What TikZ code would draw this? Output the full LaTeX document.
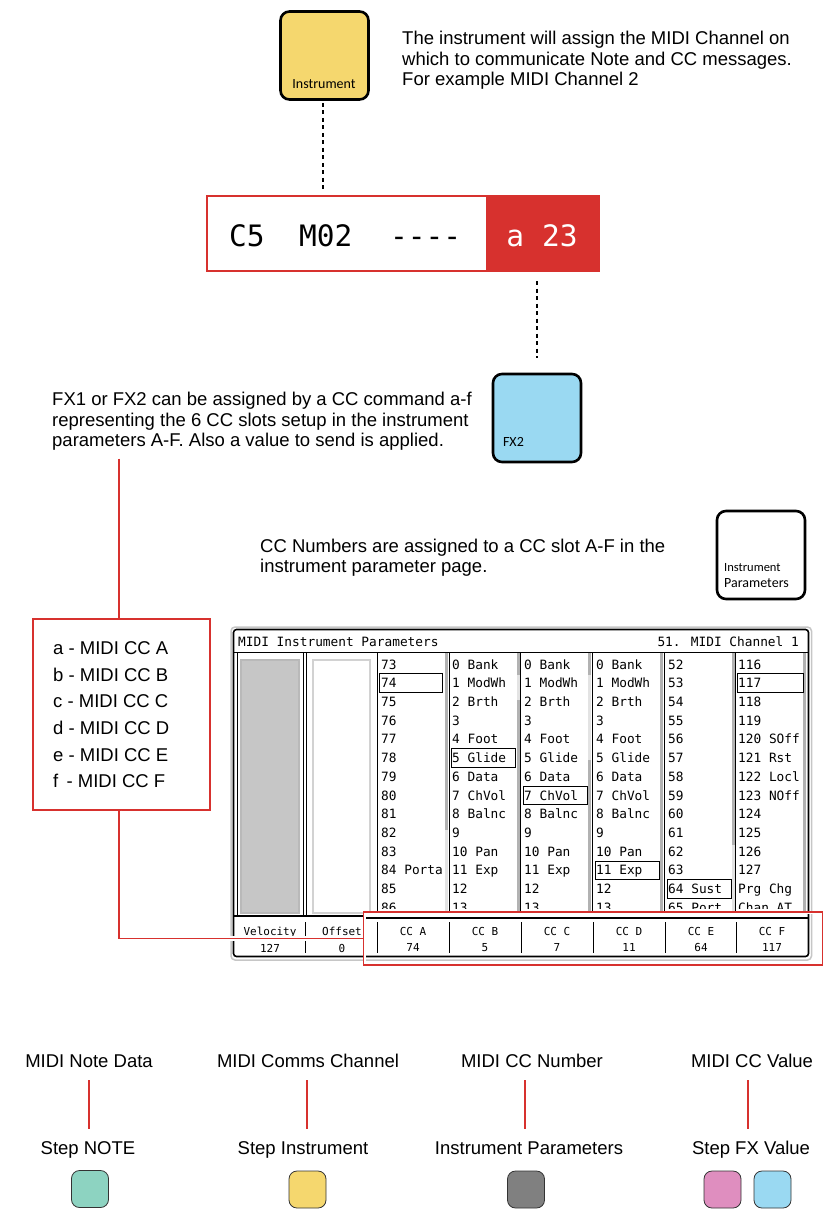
\documentclass[tikz,border=0pt]{standalone}
\usepackage{fontspec}
\setmainfont{Liberation Sans}
\newfontfamily\lcdfont{DejaVu Sans Mono}
\newfontfamily\padfont{Carlito}
\usetikzlibrary{positioning, calc}
\definecolor{mxRed}{HTML}{D7312E}
\definecolor{mxYellow}{HTML}{F5D76E}
\definecolor{mxBlue}{HTML}{9AD9F2}
\definecolor{mxTeal}{HTML}{8DD3C1}
\definecolor{mxPink}{HTML}{DF8EBF}
\definecolor{mxGray}{HTML}{808080}
\tikzset{
  mx/.style={x=1pt, y=-1pt, font=\fontsize{18.5}{20.5}\selectfont},
  pad/.style={draw, line width=2.6pt, rounded corners=9pt, minimum width=88pt, minimum height=88pt, inner sep=0pt},
  padtxt/.style={font=\padfont\fontsize{14}{15}\selectfont, inner sep=0pt, anchor=base west},
  swatch/.style={draw=black!80, line width=0.8pt, rounded corners=8pt, minimum width=37pt, minimum height=37pt, inner sep=0pt},
  note/.style={align=left, inner sep=0pt, anchor=base west},
  lbl/.style={inner sep=0pt, anchor=base},
  link/.style={draw=mxRed, line width=1.4pt},
  tether/.style={dash pattern=on 4pt off 3.5pt, line width=1.4pt},
  lcd/.style={font=\lcdfont\fontsize{29.5}{30}\selectfont, inner sep=0pt, anchor=base west},
  scr/.style={font=\lcdfont\fontsize{12.8}{14}\selectfont, inner sep=0pt, anchor=base west},
  cc/.style={font=\lcdfont\fontsize{11}{12}\selectfont, inner sep=0pt, anchor=base},
  hl/.style={draw, line width=0.9pt},
  track/.style={fill=gray!22},
  thumb/.style={fill=gray!60},
}

\begin{document}
\begin{tikzpicture}[
  mx,
]
\useasboundingbox (0,0) rectangle (831,1210);

% instrument pad and the step display
\node[pad, fill=mxYellow] (inst) at (324.5,55.5) {};
\node[padtxt, anchor=base] (instlbl) at (324,88) {Instrument};
\node[note] (chnote) at (402,85.6) {The instrument will assign the MIDI Channel on\\which to communicate Note and CC messages.\\For example MIDI Channel 2};

\node[draw=mxRed, line width=1.4pt, minimum width=392pt, minimum height=75pt, inner sep=0pt] (disp) at (403,233.5) {};
\node[fill=mxRed, minimum width=113pt, minimum height=75pt, inner sep=0pt] (dval) at (542.5,233.5) {};
\node[lcd] (dnote) at (229,246) {C5};
\node[lcd] (dchan) at (299,246) {M02};
\node[lcd] (dfx) at (390,246) {----};
\node[lcd, anchor=base, text=white] (dcc) at (542,246) {a 23};
\draw[tether, shorten <=2pt, shorten >=6pt] (inst.south -| 323,0) -- (disp.north -| 323,0);

\node[pad, fill=mxBlue] (fx2) at (537,418) {};
\node[padtxt] (fx2lbl) at (503,446) {FX2};
\draw[tether, shorten <=10pt, shorten >=15pt] (dval.south -| fx2.north) -- (fx2.north);

\node[note] (fxnote) at (52,446.6) {FX1 or FX2 can be assigned by a CC command a-f\\representing the 6 CC slots setup in the instrument\\parameters A-F. Also a value to send is applied.};

\node[pad, fill=white] (ipar) at (761,555) {};
\node[padtxt, font=\padfont\fontsize{12.5}{13}\selectfont] (iparlbl) at (724,571) {Instrument};
\node[padtxt] (iparlbl2) at (724,587) {Parameters};
\node[note] (ccnote) at (260,572.6) {CC Numbers are assigned to a CC slot A-F in the\\instrument parameter page.};

% list of cc commands
\node[draw=mxRed, line width=1.4pt, minimum width=177pt, minimum height=191pt] (ccl) at (121.5,714.5) {};
\node[note, font=\fontsize{18.5}{26.6}\selectfont] (ccltxt) at (53,787.6) {a - MIDI CC A\\b - MIDI CC B\\c - MIDI CC C\\d - MIDI CC D\\e - MIDI CC E\\f\, - MIDI CC F};
\draw[link] (fxnote.south -| 119,0) ++(0,8) -- (ccl.north -| 119,0);

% instrument parameter screen
\draw[gray!45, line width=1.5pt, rounded corners=4pt] (231,627) rectangle (811.5,960);
\draw[line width=1.6pt, rounded corners=3pt] (233.5,629.5) rectangle (808.5,956.5);
\node[scr] (ttl) at (238,646) {MIDI Instrument Parameters};
\node[scr, anchor=base east] (chn) at (799,646) {51. MIDI Channel 1};
\draw[line width=1pt] (233.5,652) -- (808.5,652);
\draw[line width=0.9pt] (237,652) -- (237,915);
\draw[gray!55, fill=gray!45, line width=1.2pt] (241,660) rectangle (299,913);
\draw[gray!35, line width=1.5pt] (313,660) rectangle (370,913);
\draw[line width=0.9pt] (303,652) -- (303,915) (306.5,652) -- (306.5,915);
\draw[line width=0.9pt] (377.5,652) -- (377.5,915) (449,652) -- (449,915) (520.5,652) -- (520.5,915)
  (592.5,652) -- (592.5,915) (664.5,652) -- (664.5,915) (735.5,652) -- (735.5,915);

\fill[track] (445,653) rectangle (448,914);  \fill[thumb] (445,653) rectangle (448,830);
\fill[track] (516.5,653) rectangle (519.5,914); \fill[thumb] (516.5,653) rectangle (519.5,675); \fill[thumb] (516.5,700) rectangle (519.5,914);
\fill[track] (588,653) rectangle (591,914);  \fill[thumb] (588,653) rectangle (591,675); \fill[thumb] (588,760) rectangle (591,914);
\fill[thumb] (660,653) rectangle (663,914);
\fill[track] (731.5,653) rectangle (734.5,914); \fill[thumb] (731.5,653) rectangle (734.5,845);
\fill[thumb] (803,653) rectangle (806,914);

\begin{scope}
\clip (377,653) rectangle (809,908);
\foreach \t [count=\i] in {73,74,75,76,77,78,79,80,81,82,83,84 Porta,85,86}
  \node[scr] (a-\i) at (381,669+18.72*\i-18.72) {\t};
\foreach \t [count=\i] in {0 Bank,1 ModWh,2 Brth,3,4 Foot,5 Glide,6 Data,7 ChVol,8 Balnc,9,10 Pan,11 Exp,12,13}
  \node[scr] (b-\i) at (452,669+18.72*\i-18.72) {\t};
\foreach \t [count=\i] in {0 Bank,1 ModWh,2 Brth,3,4 Foot,5 Glide,6 Data,7 ChVol,8 Balnc,9,10 Pan,11 Exp,12,13}
  \node[scr] (c-\i) at (524,669+18.72*\i-18.72) {\t};
\foreach \t [count=\i] in {0 Bank,1 ModWh,2 Brth,3,4 Foot,5 Glide,6 Data,7 ChVol,8 Balnc,9,10 Pan,11 Exp,12,13}
  \node[scr] (d-\i) at (596,669+18.72*\i-18.72) {\t};
\foreach \t [count=\i] in {52,53,54,55,56,57,58,59,60,61,62,63,64 Sust,65 Port}
  \node[scr] (e-\i) at (668,669+18.72*\i-18.72) {\t};
\foreach \t [count=\i] in {116,117,118,119,120 SOff,121 Rst,122 Locl,123 NOff,124,125,126,127,Prg Chg,Chan AT}
  \node[scr] (f-\i) at (738,669+18.72*\i-18.72) {\t};
\end{scope}
\draw[hl] (379.5,673.5) rectangle (442,692);
\draw[hl] (451,748.5) rectangle (515,767);
\draw[hl] (523,786) rectangle (587,804.5);
\draw[hl] (595,861) rectangle (659,879.5);
\draw[hl] (667,879.5) rectangle (731,898);
\draw[hl] (737.5,673.5) rectangle (803,692);

\draw[line width=2pt] (233.5,915.5) -- (808.5,915.5);
\draw[line width=0.9pt] (305,922) -- (305,953);
\node[cc] (vel) at (270,935) {Velocity};
\node[cc] (velv) at (270,952) {127};
\node[cc] (ofs) at (342,935) {Offset};
\node[cc] (ofsv) at (342,952) {0};

% cc slot overlay
\node[draw=mxRed, fill=white, line width=1.4pt, minimum width=459pt, minimum height=53pt, inner sep=0pt] (ccbox) at (593,938.5) {};
\draw[gray!45, line width=1.5pt, rounded corners=4pt] (366,960) -- (811.5,960) -- (811.5,914);
\draw[line width=1.6pt, rounded corners=3pt] (366,956.5) -- (808.5,956.5) -- (808.5,914);
\draw[line width=2pt] (366,917.5) -- (808.5,917.5);
\draw[line width=0.9pt] (377.5,922) -- (377.5,953) (449,922) -- (449,953) (521,922) -- (521,953)
  (593,922) -- (593,953) (665,922) -- (665,953) (736,922) -- (736,953);
\foreach \x/\n/\v in {413/A/74, 485/B/5, 557/C/7, 629/D/11, 701/E/64, 772/F/117} {
  \node[cc] (cc\n) at (\x,935) {CC \n};
  \node[cc] (cv\n) at (\x,951) {\v};
}
\draw[link, preaction={draw=white, line width=5pt}] (ccl.south -| 119,0) |- (ccbox.west);

% legend
\node[lbl] (lnote) at (89,1067.6) {MIDI Note Data};
\node[lbl] (lchan) at (308,1067.6) {MIDI Comms Channel};
\node[lbl] (lnum) at (532,1067.6) {MIDI CC Number};
\node[lbl] (lval) at (752,1067.6) {MIDI CC Value};
\node[lbl] (snote) at (88,1154.6) {Step NOTE};
\node[lbl] (schan) at (303,1154.6) {Step Instrument};
\node[lbl] (snum) at (529,1154.6) {Instrument Parameters};
\node[lbl] (sval) at (751,1154.6) {Step FX Value};
\draw[link] (89,1080) -- (89,1129);
\draw[link] (307,1080) -- (307,1129);
\draw[link] (525,1080) -- (525,1129);
\draw[link] (748,1080) -- (748,1129);
\node[swatch, fill=mxTeal] (wnote) at (90,1189) {};
\node[swatch, fill=mxYellow] (wchan) at (307.5,1189.5) {};
\node[swatch, fill=mxGray] (wnum) at (526,1189.5) {};
\node[swatch, fill=mxPink] (wfx1) at (722.5,1189.5) {};
\node[swatch, fill=mxBlue] (wfx2) at (772.5,1189.5) {};
\end{tikzpicture}
\end{document}
